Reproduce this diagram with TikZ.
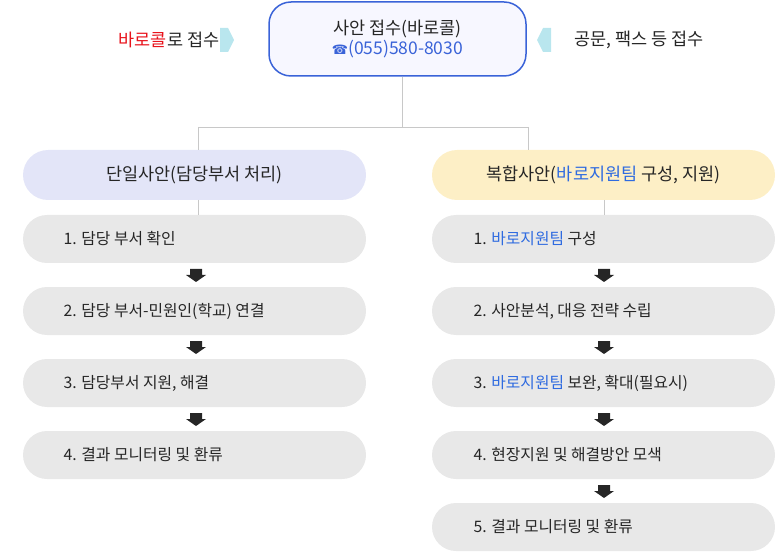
\documentclass[tikz,border=0pt]{standalone}
\usepackage{fontspec}
\setmainfont{Noto Sans CJK KR}
\newfontfamily\dejavu{DejaVu Sans}
\definecolor{bblue}{HTML}{3A63D8}
\definecolor{tblue}{HTML}{2F6BE0}
\definecolor{rred}{HTML}{E8131C}
\definecolor{lav}{HTML}{E3E5F8}
\definecolor{ylw}{HTML}{FDEFC6}
\definecolor{stepg}{HTML}{E8E8E8}
\definecolor{cyanarr}{HTML}{B9E6EE}
\definecolor{linegray}{HTML}{C8C8C8}
\begin{document}
\begin{tikzpicture}[x=1pt,y=-1pt,
  stepbox/.style={fill=stepg,rounded corners=24pt,minimum width=343pt,minimum height=48pt,inner sep=0pt},
  steptext/.style={anchor=west,font=\fontsize{15.8}{18}\selectfont,text=black!85},
  headbox/.style={rounded corners=25pt,minimum width=343pt,minimum height=50pt,inner sep=0pt,font=\fontsize{17.5}{20}\selectfont,text=black!85},
  conn/.style={draw=linegray,line width=0.8pt}]
\useasboundingbox (0,0) rectangle (776,553);
\node[draw=bblue,line width=1.5pt,fill=blue!3,rounded corners=22pt,minimum width=257pt,minimum height=74pt,align=center,font=\fontsize{17.5}{23}\selectfont,text=black!85] (top) at (397.5,39) {사안 접수(바로콜)\\[-3pt]\textcolor{bblue}{{\dejavu\fontsize{13}{14}\selectfont ☎}(055)580-8030}};
\node[font=\fontsize{17.5}{20}\selectfont,text=black!85] (lt) at (169,40) {\textcolor{rred}{바로콜}로 접수};
\node[font=\fontsize{17.5}{20}\selectfont,text=black!85] (rt) at (639,40) {공문, 팩스 등 접수};
\fill[cyanarr] (220,28) -- (228,28) -- (234,40) -- (228,52) -- (220,52) -- cycle;
\fill[cyanarr] (551,28) -- (543,28) -- (537,40) -- (543,52) -- (551,52) -- cycle;
\node[headbox,fill=lav] (lh) at (194.5,175) {단일사안(담당부서 처리)};
\node[headbox,fill=ylw] (rh) at (603.5,175) {복합사안(\textcolor{tblue}{바로지원팀} 구성, 지원)};
\coordinate (j) at (402,127);
\draw[conn] (top.south -| j) -- (j);
\draw[conn] (198,127) -- (528,127);
\draw[conn] (198,127) -- (198,150);
\draw[conn] (528,127) -- (528,150);
\foreach \n/\y/\t in {l1/239/{1. 담당 부서 확인},l2/311/{2. 담당 부서-민원인(학교) 연결},l3/383/{3. 담당부서 지원, 해결},l4/455/{4. 결과 모니터링 및 환류}}{
  \node[stepbox] (\n) at (194.5,\y) {};
  \node[steptext] at (60,\y) {\t};
}
\foreach \n/\y/\t in {r1/239/{1. \textcolor{tblue}{바로지원팀} 구성},r2/311/{2. 사안분석, 대응 전략 수립},r3/383/{3. \textcolor{tblue}{바로지원팀} 보완, 확대(필요시)},r4/455/{4. 현장지원 및 해결방안 모색},r5/527/{5. 결과 모니터링 및 환류}}{
  \node[stepbox] (\n) at (603.5,\y) {};
  \node[steptext] at (470,\y) {\t};
}
\draw[conn] (198,200) -- (198,215);
\draw[conn] (604,200) -- (604,215);
\foreach \x/\y in {196/275,196/347,196/419,604/275,604/347,604/419,604/491}{
  \fill[black!85] (\x-6,\y-6) rectangle (\x+6,\y) (\x-10,\y) -- (\x+10,\y) -- (\x,\y+7) -- cycle;
}
\end{tikzpicture}
\end{document}
